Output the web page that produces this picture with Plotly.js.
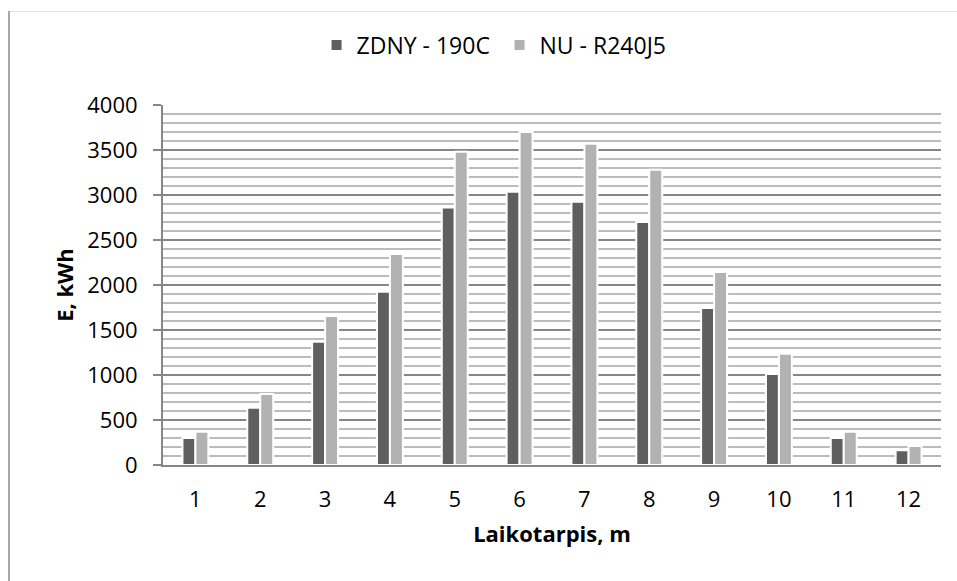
<!DOCTYPE html>
<html>
<head>
<meta charset="utf-8">
<script src="https://cdn.plot.ly/plotly-3.0.1.min.js"></script>
<style>
  html, body { margin: 0; padding: 0; background: #ffffff; }
  #wrap { position: relative; width: 957px; height: 581px; overflow: hidden; }
  #chart { position: absolute; left: 0; top: 0; width: 957px; height: 581px; }
  #frameTop { position: absolute; left: 9px; top: 11px; width: 948px; height: 0; border-top: 1px solid #e3e3e3; }
  #frameLeft { position: absolute; left: 8px; top: 11px; width: 0; height: 570px; border-left: 2px solid #a6a6a6; }
</style>
</head>
<body>
<div id="wrap">
  <div id="chart"></div>
  <div id="frameTop"></div>
  <div id="frameLeft"></div>
</div>
<script>
// ---- data ----
var categories = ["1", "2", "3", "4", "5", "6", "7", "8", "9", "10", "11", "12"];
var seriesNames = ["ZDNY - 190C", "NU - R240J5"];
var zdnyValues = [300, 635, 1370, 1925, 2860, 3035, 2925, 2700, 1745, 1010, 300, 165];
var nuValues = [370, 790, 1655, 2345, 3480, 3700, 3570, 3280, 2145, 1235, 370, 210];
var yTickValues = [0, 500, 1000, 1500, 2000, 2500, 3000, 3500, 4000];
var xTitle = "Laikotarpis, m";
var yTitle = "E, kWh";

var baseFont = { family: "Open Sans, sans-serif", size: 22, color: "#000000" };

var traces = [
  {
    type: "bar",
    name: seriesNames[0],
    x: categories,
    y: zdnyValues,
    marker: { color: "#5f5f5f", line: { color: "#ffffff", width: 2 } },
    hoverinfo: "skip"
  },
  {
    type: "bar",
    name: seriesNames[1],
    x: categories,
    y: nuValues,
    marker: { color: "#b2b2b2", line: { color: "#ffffff", width: 2 } },
    hoverinfo: "skip"
  }
];

var layout = {
  width: 957,
  height: 581,
  margin: { l: 163, r: 16, t: 105, b: 116, pad: 0 },
  paper_bgcolor: "#ffffff",
  plot_bgcolor: "#ffffff",
  font: baseFont,
  barmode: "group",
  bargap: 0.6,
  bargroupgap: 0,
  showlegend: true,
  legend: {
    orientation: "h",
    xref: "container",
    yref: "container",
    x: 0.522,
    xanchor: "center",
    y: 1 - 45 / 581,
    yanchor: "middle",
    font: { family: "Open Sans, sans-serif", size: 23, color: "#000000" },
    itemwidth: 30,
    entrywidth: 138,
    entrywidthmode: "pixels",
    bgcolor: "rgba(0,0,0,0)",
    traceorder: "normal"
  },
  xaxis: {
    type: "category",
    showgrid: false,
    zeroline: false,
    showline: true,
    linecolor: "#868686",
    linewidth: 2,
    ticks: "",
    ticklabelstandoff: 14,
    tickfont: baseFont,
    automargin: false,
    title: {
      text: xTitle,
      font: { family: "Open Sans, sans-serif", size: 22, color: "#000000", weight: "bold" },
      standoff: 14
    }
  },
  yaxis: {
    range: [0, 4000],
    tickmode: "array",
    tickvals: yTickValues,
    ticktext: yTickValues.map(String),
    showgrid: true,
    gridcolor: "#868686",
    gridwidth: 2,
    zeroline: false,
    showline: true,
    linecolor: "#868686",
    linewidth: 2,
    ticks: "outside",
    ticklen: 8,
    tickwidth: 2,
    tickcolor: "#868686",
    ticklabelstandoff: 11,
    tickfont: baseFont,
    automargin: false,
    minor: {
      dtick: 100,
      tick0: 0,
      showgrid: true,
      gridcolor: "#bcbcbc",
      gridwidth: 1.5,
      ticks: ""
    },
    title: {
      text: yTitle,
      font: { family: "Open Sans, sans-serif", size: 22, color: "#000000", weight: "bold" },
      standoff: 8
    }
  }
};

Plotly.newPlot("chart", traces, layout, { staticPlot: true, displayModeBar: false });
</script>
</body>
</html>
